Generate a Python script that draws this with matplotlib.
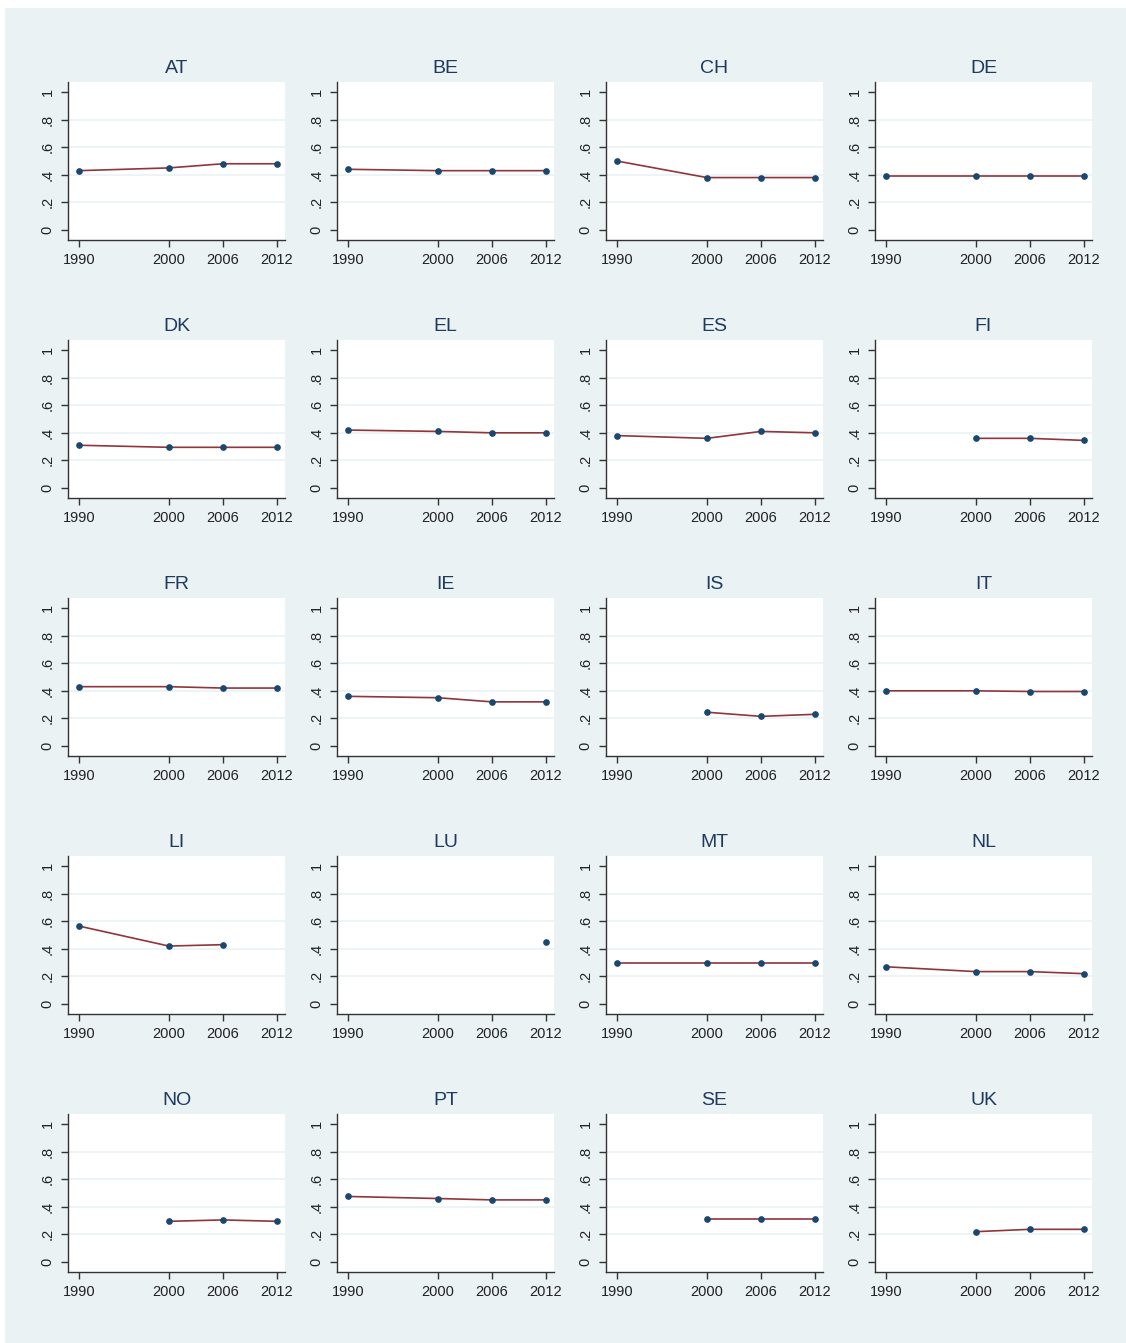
import numpy as np
import matplotlib.pyplot as plt
from matplotlib.patches import Rectangle

plt.rcParams['font.family'] = ['Liberation Sans', 'DejaVu Sans']

years = [1990, 2000, 2006, 2012]
countries = ["AT", "BE", "CH", "DE",
             "DK", "EL", "ES", "FI",
             "FR", "IE", "IS", "IT",
             "LI", "LU", "MT", "NL",
             "NO", "PT", "SE", "UK"]
nan = np.nan
AT = [0.43, 0.45, 0.48, 0.48]
BE = [0.44, 0.43, 0.43, 0.43]
CH = [0.50, 0.38, 0.38, 0.38]
DE = [0.39, 0.39, 0.39, 0.39]
DK = [0.31, 0.295, 0.295, 0.295]
EL = [0.42, 0.41, 0.40, 0.40]
ES = [0.38, 0.36, 0.41, 0.40]
FI = [nan, 0.36, 0.36, 0.345]
FR = [0.43, 0.43, 0.42, 0.42]
IE = [0.36, 0.35, 0.32, 0.32]
IS = [nan, 0.245, 0.215, 0.23]
IT = [0.40, 0.40, 0.395, 0.395]
LI = [0.565, 0.42, 0.43, nan]
LU = [nan, nan, nan, 0.45]
MT = [0.295, 0.295, 0.295, 0.295]
NL = [0.27, 0.235, 0.235, 0.22]
NO = [nan, 0.295, 0.305, 0.295]
PT = [0.475, 0.46, 0.45, 0.45]
SE = [nan, 0.315, 0.315, 0.315]
UK = [nan, 0.22, 0.237, 0.237]
series = [AT, BE, CH, DE, DK, EL, ES, FI, FR, IE, IS, IT,
          LI, LU, MT, NL, NO, PT, SE, UK]

yticks = [0, 0.2, 0.4, 0.6, 0.8, 1]
ytick_labels = ["0", ".2", ".4", ".6", ".8", "1"]

W, H = 1126, 1343
bg = "#EAF2F3"
fig = plt.figure(figsize=(W / 100, H / 100), dpi=100)
fig.patch.set_facecolor("white")
fig.add_artist(Rectangle((5 / W, 0), 1 - 5 / W, (H - 8) / H,
                         transform=fig.transFigure, facecolor=bg,
                         edgecolor="none", zorder=-10))

for i, (name, vals) in enumerate(zip(countries, series)):
    r, c = divmod(i, 4)
    left = 68 + 269 * c
    top = 82 + 258 * r
    ax = fig.add_axes([left / W, 1 - (top + 158) / H, 217 / W, 158 / H])
    ax.set_facecolor("white")
    ax.plot(years, vals, color="#90353B", lw=1.2, zorder=2)
    ax.plot(years, vals, "o", color="#1A476F", ms=3.8, zorder=3)
    ax.set_xlim(1988.8, 2012.9)
    ax.set_ylim(-0.072, 1.072)
    ax.set_xticks(years)
    ax.set_xticklabels([str(y) for y in years], fontsize=10.5)
    ax.set_yticks(yticks)
    ax.set_yticklabels(ytick_labels, fontsize=10.5, rotation=90, va="center")
    for g in yticks[1:-1]:
        ax.axhline(g, color=bg, lw=1.2, zorder=1)
    ax.spines["top"].set_visible(False)
    ax.spines["right"].set_visible(False)
    for s in ("left", "bottom"):
        ax.spines[s].set_color("#333333")
        ax.spines[s].set_linewidth(1.0)
    ax.tick_params(length=5, width=1, color="#333333", labelcolor="#222222")
    ax.tick_params(axis="x", pad=4.5)
    ax.tick_params(axis="y", pad=4.5)
    ax.set_title(name, fontsize=14, color="#1E3A5F", pad=6.5)

fig.savefig("out.png", dpi=100, facecolor=fig.get_facecolor())
